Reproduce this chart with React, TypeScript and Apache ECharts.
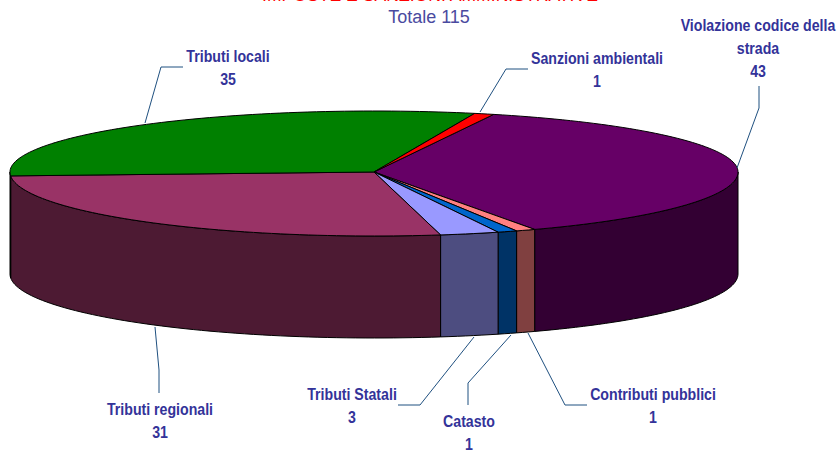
import React, { useEffect, useRef } from "react";
import * as echarts from "echarts";

const categories = [
  "Violazione codice della strada",
  "Contributi pubblici",
  "Catasto",
  "Tributi Statali",
  "Tributi regionali",
  "Tributi locali",
  "Sanzioni ambientali",
];
const values = [43, 1, 1, 3, 31, 35, 1];
const topColors = ["#660066", "#FF8080", "#0066CC", "#9999FF", "#993366", "#008000", "#FF0000"];
const wallColors = ["#330033", "#804040", "#003366", "#4D4D80", "#4D1A33", "#004000", "#800000"];
const chartTitle = "IMPOSTE E SANZIONI AMMINISTRATIVE";
const chartSubtitle = "Totale 115";

const labelLayout = [
  { lines: ["Violazione codice della", "strada", "43"], x: 758, y: 25, line: [[737, 168], [759, 108], [759, 86]] },
  { lines: ["Contributi pubblici", "1"], x: 653, y: 394, line: [[528, 333], [565, 405], [587, 405]] },
  { lines: ["Catasto", "1"], x: 469, y: 421, line: [[511, 335], [468, 383], [468, 405]] },
  { lines: ["Tributi Statali", "3"], x: 352, y: 394, line: [[474, 337], [420, 405], [398, 405]] },
  { lines: ["Tributi regionali", "31"], x: 160, y: 409, line: [[155, 327], [159, 370], [159, 393]] },
  { lines: ["Tributi locali", "35"], x: 228, y: 56, line: [[145, 123], [161, 67], [183, 67]] },
  { lines: ["Sanzioni ambientali", "1"], x: 597, y: 58, line: [[480, 112], [506, 69], [528, 69]] },
];

const CX = 374, CY = 172, RX = 364, RY_TOP = 61, RY_BOTTOM = 64, DEPTH = 102;
const START_DEG = -70.8;
const total = values.reduce((a, b) => a + b, 0);

function pt(deg: number, dy = 0): number[] {
  const t = (deg * Math.PI) / 180;
  const s = Math.sin(t);
  return [CX + RX * Math.cos(t), CY + (s < 0 ? RY_TOP : RY_BOTTOM) * s + dy];
}
function arc(a: number, b: number, dy = 0): number[][] {
  const n = Math.max(2, Math.ceil(Math.abs(b - a) / 1.5));
  const out: number[][] = [];
  for (let i = 0; i <= n; i++) out.push(pt(a + ((b - a) * i) / n, dy));
  return out;
}

function renderItem(params: any, api: any) {
  const idx = params.dataIndex;
  let before = 0;
  for (let i = 0; i < idx; i++) before += values[i];
  const a0 = START_DEG + (before / total) * 360;
  const a1 = a0 + (api.value(0) / total) * 360;
  const children: any[] = [];
  const wa = Math.max(a0, 0), wb = Math.min(a1, 180);
  if (wb > wa) {
    const topEdge = arc(wa, wb);
    const lowEdge = arc(wb, wa, DEPTH);
    children.push({
      type: "polygon",
      shape: { points: topEdge.concat(lowEdge) },
      style: { fill: wallColors[idx], stroke: "#000", lineWidth: 1 },
    });
  }
  children.push({
    type: "polygon",
    shape: { points: [[CX, CY]].concat(arc(a0, a1)) },
    style: { fill: topColors[idx], stroke: "#000", lineWidth: 1 },
  });
  return { type: "group", children };
}

export default function App() {
  const ref = useRef<HTMLDivElement>(null);
  useEffect(() => {
    const chart = echarts.init(ref.current!, null, { renderer: "svg" });
    const labelFont = { fontFamily: "Liberation Sans", fontWeight: "bold", fontSize: 16, fill: "#333399", textAlign: "center", textVerticalAlign: "middle" };
    const graphics: any[] = [];
    labelLayout.forEach((l) => {
      graphics.push({
        type: "polyline", z: 5,
        shape: { points: l.line },
        style: { stroke: "#1F5080", lineWidth: 1, fill: "none" },
      });
      l.lines.forEach((t, i) => {
        graphics.push({
          type: "text", z: 6, x: l.x, y: l.y + i * 23, scaleX: 0.885,
          style: { ...labelFont, text: t },
        });
      });
    });
    graphics.push({
      type: "text", x: 430, y: -5,
      style: { text: chartTitle, fontFamily: "Liberation Sans", fontSize: 17.6, fill: "#FF0000", textAlign: "center", textVerticalAlign: "middle" },
    });
    graphics.push({
      type: "text", x: 429, y: 17,
      style: { text: chartSubtitle, fontFamily: "Liberation Sans", fontSize: 18, fill: "#4A4AA0", textAlign: "center", textVerticalAlign: "middle" },
    });
    chart.setOption({
      animation: false,
      backgroundColor: "#FFFFFF",
      series: [
        {
          type: "custom",
          coordinateSystem: "none",
          renderItem,
          data: values.map((v, i) => ({ name: categories[i], value: [v] })),
          silent: true,
        },
      ],
      graphic: graphics,
    });
    return () => chart.dispose();
  }, []);
  return <div ref={ref} style={{ position: "fixed", left: 0, top: 0, width: 839, height: 450 }} />;
}
